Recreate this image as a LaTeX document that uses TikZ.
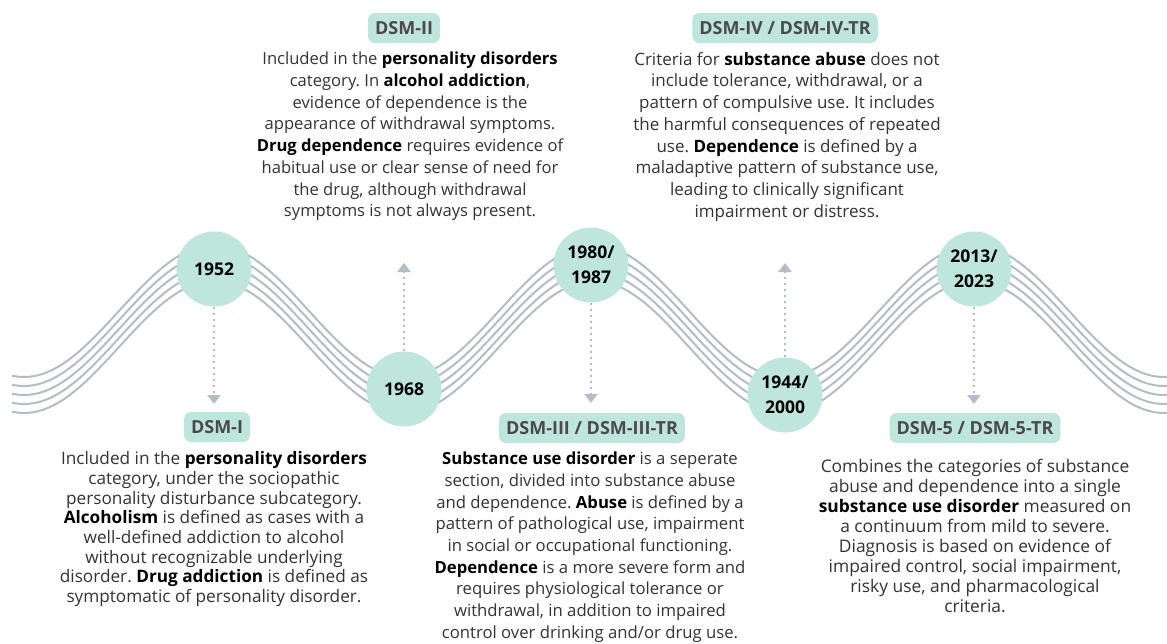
\documentclass[tikz,border=0pt]{standalone}
\usepackage{fontspec}
\setmainfont{Open Sans}
\usetikzlibrary{arrows.meta}
\definecolor{mint}{HTML}{BEE6DC}
\definecolor{wavegray}{HTML}{B4BCC4}
\definecolor{labelgray}{HTML}{4A4A4A}
\definecolor{txtgray}{HTML}{333333}
\newcommand{\bb}[1]{\textbf{\color{black}#1}}
\tikzset{
  wave/.style={draw=wavegray, line width=2pt},
  yearnode/.style={circle, fill=mint, minimum size=75pt, inner sep=0pt, align=center,
    font=\fontsize{17.5}{25}\selectfont\bfseries, text=black},
  dsmlabel/.style={rounded corners=7pt, fill=mint, minimum height=30pt, inner xsep=7pt,
    font=\fontsize{18}{20}\selectfont\bfseries, text=labelgray},
  desc/.style={align=center, inner sep=0pt, anchor=north, text=txtgray},
  pointer/.style={draw=wavegray, line width=2.5pt, dash pattern=on 2.5pt off 3.5pt,
    -{Triangle[width=13pt,length=9pt]}},
}
\begin{document}
\frenchspacing
\begin{tikzpicture}[x=1pt,y=-1pt]
\useasboundingbox[fill=white] (0,0) rectangle (1167,643);
% waves
\foreach \o in {-18,-9,0,9,18}{
  \draw[wave] plot[smooth, samples=240, domain=12:1167] (\x,{329+\o-66*cos(0.9473684*(\x-214))});
}
% year circles
\node[yearnode] (y1952) at (214,269) {1952};
\node[yearnode] (y1968) at (404,389) {1968};
\node[yearnode] (y1980) at (591,265) {1980/\\1987};
\node[yearnode] (y1994) at (785,395) {1944/\\2000};
\node[yearnode] (y2013) at (974,269) {2013/\\2023};
% arrow tips
\coordinate (t1) at (214,404);
\coordinate (t2) at (404,263);
\coordinate (t3) at (591,403);
\coordinate (t4) at (785,263);
\coordinate (t5) at (974,404);
\draw[pointer] (y1952.south) -- (t1);
\draw[pointer] (y1968.north) -- (t2);
\draw[pointer] (y1980.south) -- (t3);
\draw[pointer] (y1994.north) -- (t4);
\draw[pointer] (y2013.south) -- (t5);
% labels
\node[dsmlabel] (l1) at (217,427) {DSM-I};
\node[dsmlabel] (l2) at (404,28) {DSM-II};
\node[dsmlabel] (l3) at (592,428) {DSM-III / DSM-III-TR};
\node[dsmlabel] (l4) at (785,28) {DSM-IV / DSM-IV-TR};
\node[dsmlabel] (l5) at (975,428) {DSM-5 / DSM-5-TR};
% descriptions
\node[desc, font=\fontsize{17.2}{19.7}\selectfont] (d1) at (214,451.5) {Included in the \bb{personality disorders}\\category, under the sociopathic\\personality disturbance subcategory.\\\bb{Alcoholism} is defined as cases with a\\well-defined addiction to alcohol\\without recognizable underlying\\disorder. \bb{Drug addiction} is defined as\\symptomatic of personality disorder.};
\node[desc, font=\fontsize{16.6}{21.7}\selectfont] (d2) at (410,52) {Included in the \bb{personality disorders}\\category. In \bb{alcohol addiction},\\evidence of dependence is the\\appearance of withdrawal symptoms.\\\bb{Drug dependence} requires evidence of\\habitual use or clear sense of need for\\the drug, although withdrawal\\symptoms is not always present.};
\node[desc, font=\fontsize{16.7}{21.7}\selectfont] (d3) at (590,451.8) {\bb{Substance use disorder} is a seperate\\section, divided into substance abuse\\and dependence. \bb{Abuse} is defined by a\\pattern of pathological use, impairment\\in social or occupational functioning.\\\bb{Dependence} is a more severe form and\\requires physiological tolerance or\\withdrawal, in addition to impaired\\control over drinking and/or drug use.};
\node[desc, font=\fontsize{17}{21.7}\selectfont] (d4) at (787,52) {Criteria for \bb{substance abuse} does not\\include tolerance, withdrawal, or a\\pattern of compulsive use. It includes\\the harmful consequences of repeated\\use. \bb{Dependence} is defined by a\\maladaptive pattern of substance use,\\leading to clinically significant\\impairment or distress.};
\node[desc, font=\fontsize{17.4}{20.1}\selectfont] (d5) at (975,458.5) {Combines the categories of substance\\abuse and dependence into a single\\\bb{substance use disorder} measured on\\a continuum from mild to severe.\\Diagnosis is based on evidence of\\impaired control, social impairment,\\risky use, and pharmacological\\criteria.};
\end{tikzpicture}
\end{document}
